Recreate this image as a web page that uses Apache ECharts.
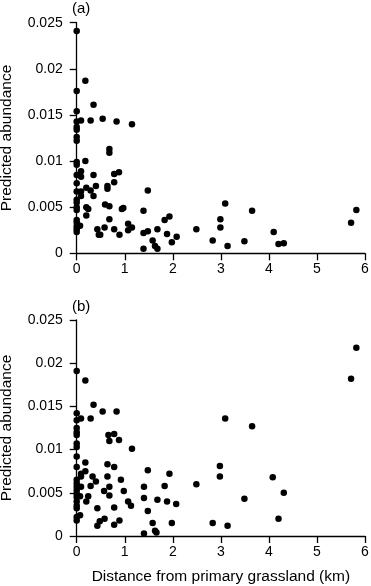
<!DOCTYPE html>
<html>
<head>
<meta charset="utf-8">
<script src="https://cdn.jsdelivr.net/npm/echarts@6/dist/echarts.min.js"></script>
<style>
html,body{margin:0;padding:0;background:#fff;}
#chart{width:371px;height:586px;}
</style>
</head>
<body>
<div id="chart"></div>
<script>
// Panel (a)
const distA = [0,0,0,0,0,0,0,0,0,0,0,0,0,0,0,0,0,0,0,0,0,0,
  0.09,0.29,0.54,0.83,1.15,0.18,0.35,
  0.09,0.09,0.18,0.09,0.09,0.2,0.07,0.2,0.2,0.24,0.29,0.35,0.35,0.4,0.43,0.46,0.49,0.59,0.58,0.64,0.64,0.68,0.68,0.68,0.68,0.78,0.78,0.88,0.78,0.89,0.94,0.97,1.07,1.07,1.15,
  1.39,1.39,1.39,1.48,1.48,1.58,1.63,1.68,1.68,1.83,1.88,1.93,1.98,2.08,2.49,2.83,2.99,2.99,3.09,3.14,3.49,3.65,4.1,4.2,4.31,5.71,5.82];
const abundA = [0.0241,0.0176,0.0154,0.0143,0.0137,0.0134,0.0126,0.0122,0.0099,0.0096,0.0085,0.0076,0.0067,0.0058,0.0055,0.005,0.0047,0.0036,0.0033,0.0029,0.0026,0.0023,
  0.0144,0.0144,0.0146,0.0143,0.014,0.0187,0.0161,
  0.0089,0.0083,0.01,0.0067,0.0062,0.0071,0.003,0.0041,0.005,0.0048,0.0068,0.0085,0.0062,0.0073,0.0026,0.002,0.002,0.0053,0.0028,0.0073,0.007,0.0113,0.0109,0.0051,0.0037,0.0077,0.0086,0.0088,0.0026,0.002,0.0048,0.0049,0.0032,0.0025,0.0028,
  0.0046,0.0022,0.0005,0.0068,0.0024,0.0014,0.0008,0.0005,0.0026,0.0036,0.0021,0.004,0.0012,0.0018,0.0026,0.0014,0.0037,0.0028,0.0054,0.0008,0.0013,0.0046,0.0023,0.001,0.0011,0.0033,0.0047];

// Panel (b)
const distB = [0,0,0,0,0,0,0,0,0,0,0,0,0,0,0,0,0,0,0,0,0,
  0.18,0.35,0.09,0.29,0.54,0.83,3.09,3.65,5.71,5.82,
  0.66,0.78,0.68,0.88,1.15,0.18,0.09,0.09,0.18,0.09,0.07,0.07,0.24,0.2,0.33,0.4,0.29,0.43,0.43,0.48,0.58,0.64,0.64,0.57,0.68,0.68,0.78,0.78,0.78,0.89,0.92,0.98,1.07,1.13,
  1.4,1.4,1.4,1.48,1.48,1.58,1.63,1.66,1.68,1.83,1.88,1.93,1.98,2.07,2.49,2.83,2.98,2.98,3.14,3.49,4.08,4.2,4.31];
const abundB = [0.0191,0.0142,0.0134,0.0125,0.012,0.0117,0.0107,0.0103,0.0092,0.008,0.0065,0.0061,0.0057,0.0053,0.0049,0.0045,0.004,0.0035,0.0032,0.0022,0.0018,
  0.018,0.0152,0.0136,0.0136,0.0144,0.0144,0.0136,0.0127,0.0182,0.0218,
  0.0117,0.0118,0.011,0.0111,0.0101,0.0085,0.0072,0.0069,0.0075,0.0057,0.0046,0.0024,0.0046,0.004,0.0069,0.0063,0.0058,0.0032,0.0012,0.0017,0.002,0.0083,0.0069,0.0052,0.0057,0.0047,0.008,0.0033,0.0013,0.0018,0.0065,0.0052,0.004,0.0035,
  0.0057,0.0044,0.0003,0.0076,0.0029,0.0015,0.0006,0.0004,0.0042,0.0058,0.004,0.0072,0.0015,0.0037,0.006,0.0015,0.0081,0.0069,0.0012,0.0043,0.0068,0.002,0.005];

const xTicks = [0,1,2,3,4,5,6];
const yTicks = [0,0.005,0.01,0.015,0.02,0.025];
const panelLabels = ['(a)','(b)'];
const xTitle = 'Distance from primary grassland (km)';
const yTitle = 'Predicted abundance';

const FONT = 'Liberation Sans, Arial, Helvetica, sans-serif';
const pairs = (xs, ys) => xs.map((x, i) => [x, ys[i]]);

function xAxisCfg(idx, withName) {
  return {
    type: 'value', gridIndex: idx, min: xTicks[0], max: xTicks[xTicks.length-1], interval: 1,
    splitLine: {show: false},
    axisLine: {onZero: false, lineStyle: {color: '#000', width: 1.3}},
    axisTick: {length: 7, lineStyle: {color: '#000', width: 1.3}},
    axisLabel: {color: '#000', fontSize: 14, fontFamily: FONT, margin: 9},
    name: withName ? xTitle : '', nameLocation: 'middle', nameGap: 33,
    nameTextStyle: {color: '#000', fontSize: 15.5, fontFamily: FONT}
  };
}
function yAxisCfg(idx) {
  return {
    type: 'value', gridIndex: idx, min: yTicks[0], max: yTicks[yTicks.length-1], interval: 0.005,
    splitLine: {show: false},
    axisLine: {onZero: false, lineStyle: {color: '#000', width: 1.3}},
    axisTick: {length: 7, lineStyle: {color: '#000', width: 1.3}},
    axisLabel: {color: '#000', fontSize: 14, fontFamily: FONT, margin: 14,
      formatter: v => String(+v.toFixed(3))},
    name: yTitle, nameLocation: 'middle', nameGap: 62,
    nameTextStyle: {color: '#000', fontSize: 15.5, fontFamily: FONT}
  };
}

const chart = echarts.init(document.getElementById('chart'), null, {renderer: 'canvas'});
chart.setOption({
  animation: false,
  backgroundColor: '#fff',
  grid: [
    {left: 76.7, top: 22.7, width: 288.3, height: 230.6, containLabel: false, outerBoundsMode: 'none'},
    {left: 76.7, top: 320, width: 288.3, height: 216, containLabel: false, outerBoundsMode: 'none'}
  ],
  xAxis: [xAxisCfg(0, false), xAxisCfg(1, true)],
  yAxis: [yAxisCfg(0), yAxisCfg(1)],
  graphic: [
    {type: 'text', left: 72, top: 1, style: {text: panelLabels[0], fill: '#000', font: '15px ' + FONT}},
    {type: 'text', left: 72, top: 299, style: {text: panelLabels[1], fill: '#000', font: '15px ' + FONT}}
  ],
  series: [
    {type: 'scatter', xAxisIndex: 0, yAxisIndex: 0, data: pairs(distA, abundA), symbolSize: 6.5,
      itemStyle: {color: '#000', opacity: 1}},
    {type: 'scatter', xAxisIndex: 1, yAxisIndex: 1, data: pairs(distB, abundB), symbolSize: 6.5,
      itemStyle: {color: '#000', opacity: 1}}
  ]
});
</script>
</body>
</html>
